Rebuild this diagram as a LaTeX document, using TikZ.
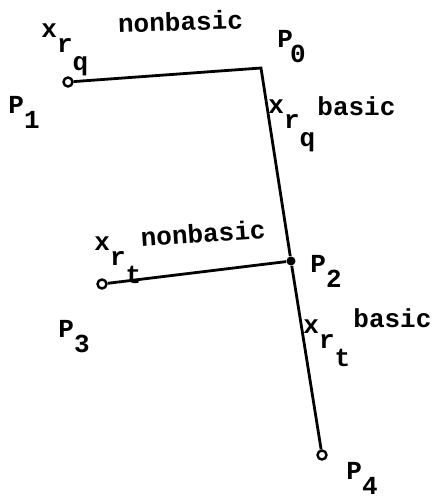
\documentclass[tikz,border=0pt]{standalone}
\usepackage{fontspec}
\newfontfamily\tw{Liberation Mono}
\newcommand{\tfont}{\fontsize{13}{15}\tw\bfseries}
% x with a subscript r and a second level subscript
\newcommand{\xrsub}[1]{x\raisebox{-7.5pt}{r\raisebox{-9pt}{#1}}}
% point label P with a subscript
\newcommand{\plab}[2][0pt]{P\kern#1\raisebox{-7.5pt}{#2}}
\begin{document}
\begin{tikzpicture}[x=0.5pt,y=-0.5pt]
    \tikzset{
        lbl/.style={anchor=base west, inner sep=0pt, font=\tfont},
        hollow/.style={circle, draw, line width=1.2pt, inner sep=0pt, minimum size=4.5pt},
        solid dot/.style={circle, fill, inner sep=0pt, minimum size=4.5pt},
        path/.style={line width=1.4pt}
    }
    \useasboundingbox (0,0) rectangle (434,499);

    % Points
    \coordinate (p0) at (261,68);
    \node[hollow] (p1) at (68,82) {};
    \node[solid dot] (p2) at (291,261) {};
    \node[hollow] (p3) at (102,284) {};
    \node[hollow] (p4) at (322,455) {};

    % Edges
    \draw[path] (p1) -- (p0) -- (p2) -- (p4);
    \draw[path] (p3) -- (p2);

    % Point labels
    \node[lbl] (l0) at (277,47) {\plab[-1.5pt]{0}};
    \node[lbl] (l1) at (8,113) {\plab{1}};
    \node[lbl] (l2) at (310,272) {\plab{2}};
    \node[lbl] (l3) at (58,337) {\plab{3}};
    \node[lbl] (l4) at (346,479) {\plab{4}};

    % Upper edges
    \node[lbl] (xq1) at (41,37) {\xrsub{q}};
    \node[lbl, rotate=2] (nb1) at (118,33) {nonbasic};
    \node[lbl] (xq2) at (268,113) {\xrsub{q}};
    \node[lbl] (b1) at (317,115) {basic};

    % Lower edges
    \node[lbl] (xt1) at (94,250) {\xrsub{t}};
    \node[lbl, rotate=4] (nb2) at (141,247) {nonbasic};
    \node[lbl] (xt2) at (303,333) {\xrsub{t}};
    \node[lbl] (b2) at (353,327) {basic};
\end{tikzpicture}
\end{document}
